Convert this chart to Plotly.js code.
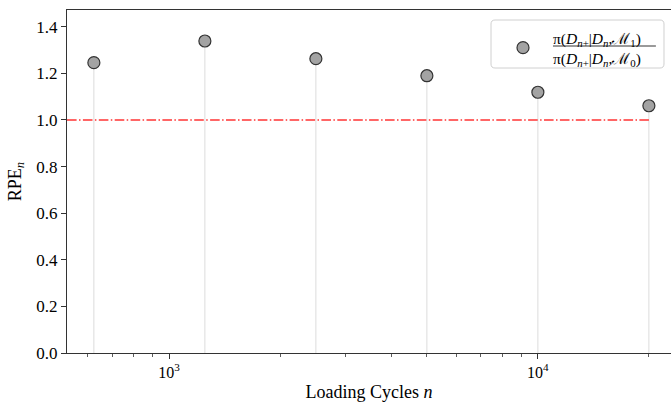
<!DOCTYPE html>
<html>
<head>
<meta charset="utf-8">
<script src="https://cdn.plot.ly/plotly-3.0.1.min.js"></script>
<style>html,body{margin:0;padding:0;background:#fff;}#chart{width:671px;height:403px;}</style>
</head>
<body>
<div id="chart"></div>
<script>
// Data
const cycles = [625, 1250, 2500, 5000, 10000, 20000];
const rpe = [1.246, 1.339, 1.263, 1.190, 1.119, 1.061];
const refLevel = 1.0;
const xTickVals = [1000, 10000];
const xTickText = ['10<sup>3</sup>', '10<sup>4</sup>'];
const xMinorTickVals = [600, 700, 800, 900, 2000, 3000, 4000, 5000, 6000, 7000, 8000, 9000, 20000];
const yTickVals = [0, 0.2, 0.4, 0.6, 0.8, 1.0, 1.2, 1.4];
const yTickText = ['0.0', '0.2', '0.4', '0.6', '0.8', '1.0', '1.2', '1.4'];
const legendLabel = 'π(<i>D</i><sub><i>n</i>+</sub>|<i>D</i><sub><i>n</i></sub>,ℳ<sub>1</sub>)<br>π(<i>D</i><sub><i>n</i>+</sub>|<i>D</i><sub><i>n</i></sub>,ℳ<sub>0</sub>)';

const xRange = [2.723, 4.361];
const FONT = 'Liberation Serif, DejaVu Serif, serif';

// stems
const stemX = [], stemY = [];
cycles.forEach((c, i) => { stemX.push(c, c, null); stemY.push(0, rpe[i], null); });

const traces = [
  {x: stemX, y: stemY, mode: 'lines', line: {color: '#dcdcdc', width: 1}, hoverinfo: 'skip', showlegend: false},
  {x: [Math.pow(10, xRange[0]), cycles[cycles.length - 1]], y: [refLevel, refLevel], mode: 'lines',
   line: {color: 'rgba(255,0,0,0.8)', width: 1.5, dash: '9.6px,2.4px,1.5px,2.4px'}, showlegend: false, hoverinfo: 'skip'},
  {x: cycles, y: rpe, mode: 'markers', name: legendLabel,
   marker: {size: 12, color: '#a3a3a3', line: {color: '#333333', width: 1.2}}}
];

// rounded legend frame (paper coords)
const bx0 = 0.702, bx1 = 0.9884, by0 = 0.8309, by1 = 0.9708, rx = 0.0066, ry = 0.0117;
const framePath = `M ${bx0 + rx},${by1} L ${bx1 - rx},${by1} Q ${bx1},${by1} ${bx1},${by1 - ry} L ${bx1},${by0 + ry} Q ${bx1},${by0} ${bx1 - rx},${by0} L ${bx0 + rx},${by0} Q ${bx0},${by0} ${bx0},${by0 + ry} L ${bx0},${by1 - ry} Q ${bx0},${by1} ${bx0 + rx},${by1} Z`;

const layout = {
  width: 671, height: 403,
  margin: {l: 67, r: 0, t: 10, b: 50, pad: 0},
  paper_bgcolor: '#fff', plot_bgcolor: '#fff',
  font: {family: FONT, size: 16, color: '#000'},
  showlegend: true,
  legend: {x: 0.7053, y: 0.968, xanchor: 'left', yanchor: 'top',
    bgcolor: 'rgba(0,0,0,0)', borderwidth: 0,
    font: {family: FONT, size: 15.5, color: '#000'}, itemwidth: 50},
  xaxis: {type: 'log', range: xRange, showgrid: false, zeroline: false,
    showline: true, mirror: true, linecolor: '#333', linewidth: 1,
    ticks: 'outside', ticklen: 5, tickwidth: 1, tickcolor: '#333',
    tickvals: xTickVals, ticktext: xTickText,
    minor: {tickvals: xMinorTickVals, ticks: 'outside', ticklen: 3, tickwidth: 0.8, tickcolor: '#333', showgrid: false},
    tickfont: {family: FONT, size: 16},
    title: {text: 'Loading Cycles <i>n</i>', font: {family: FONT, size: 18}, standoff: 5}},
  yaxis: {range: [0, 1.472], showgrid: false, zeroline: false,
    showline: true, mirror: false, linecolor: '#333', linewidth: 1,
    ticks: 'outside', ticklen: 5, tickwidth: 1, tickcolor: '#333',
    tickvals: yTickVals, ticktext: yTickText,
    tickfont: {family: FONT, size: 17},
    title: {text: 'RPE<sub><i>n</i></sub>', font: {family: FONT, size: 18}, standoff: 10}},
  shapes: [
    {type: 'path', xref: 'paper', yref: 'paper', path: framePath, fillcolor: 'rgba(255,255,255,0.8)', line: {color: '#d0d0d0', width: 1}, layer: 'above'},
    {type: 'line', xref: 'paper', yref: 'paper', x0: 0.8046, x1: 0.975, y0: 0.895, y1: 0.895, line: {color: '#000', width: 0.8}, layer: 'above'}
  ]
};

Plotly.newPlot('chart', traces, layout, {displayModeBar: false, staticPlot: true});
</script>
</body>
</html>
